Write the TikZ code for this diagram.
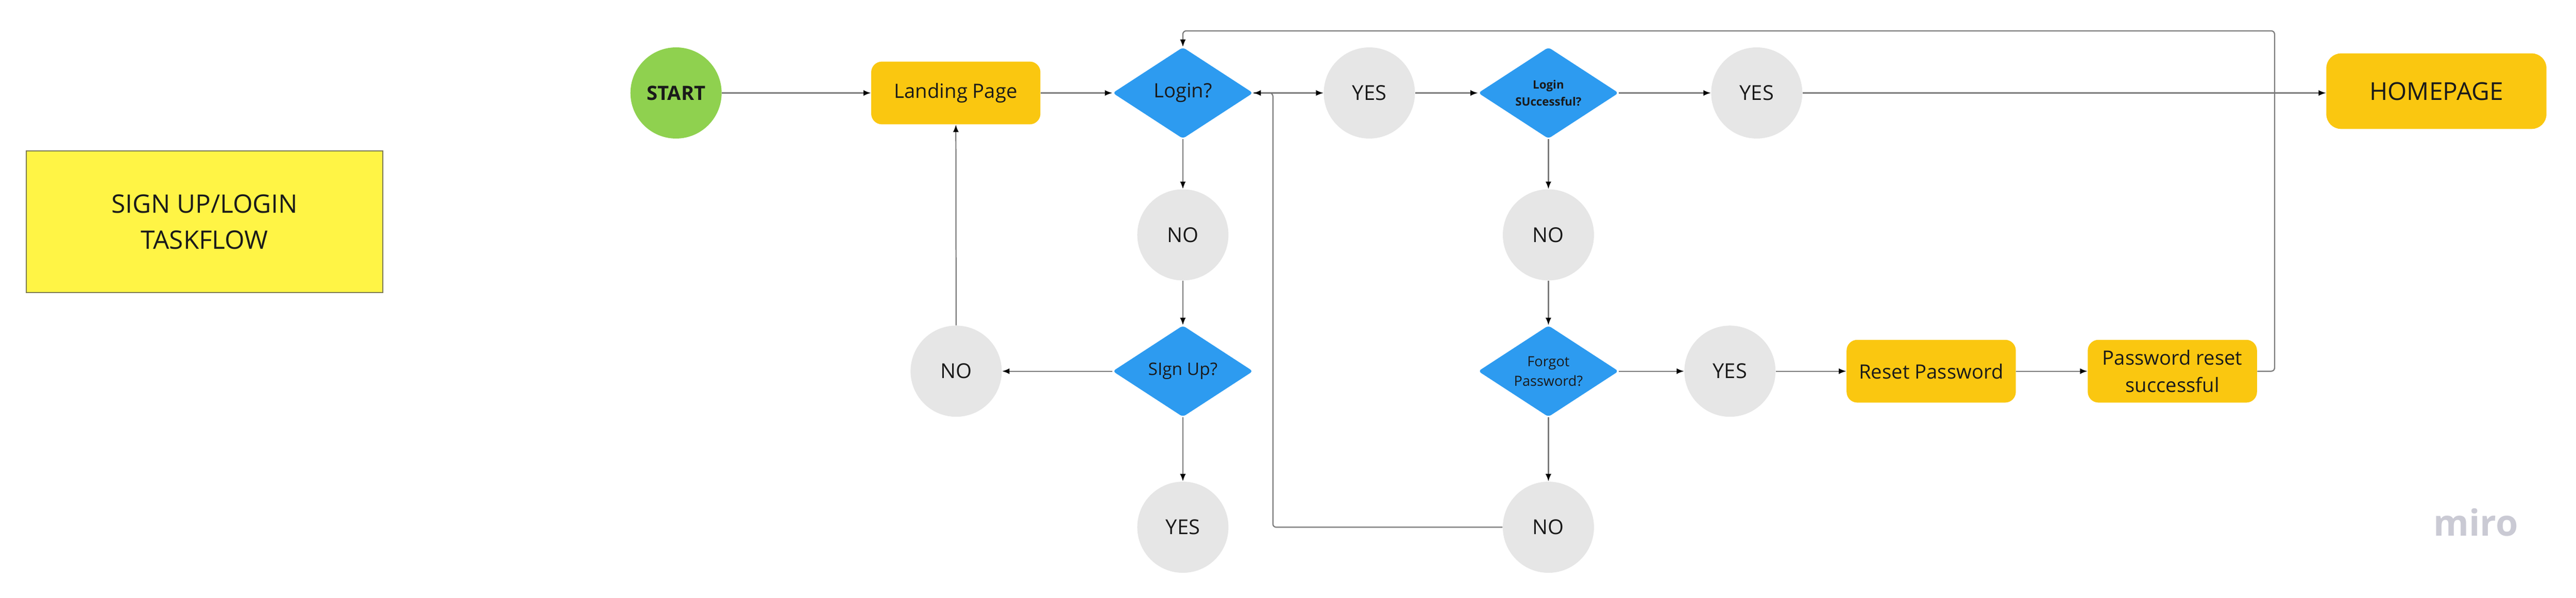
\documentclass[tikz,border=0pt]{standalone}
\usepackage{fontspec}
\setmainfont{Open Sans}
\usepackage{tikz}
\usetikzlibrary{shapes.geometric, arrows.meta}

\definecolor{startgreen}{HTML}{8FD14F}
\definecolor{pageyellow}{HTML}{FAC710}
\definecolor{askblue}{HTML}{2D9BF0}
\definecolor{ansgray}{HTML}{E6E6E6}
\definecolor{titleyellow}{HTML}{FFF445}
\definecolor{titleborder}{HTML}{7D7A55}
\definecolor{linegray}{HTML}{7A7A7A}
\definecolor{txt}{HTML}{1A1A1A}
\definecolor{logogray}{HTML}{CACAD4}

\begin{document}
\begin{tikzpicture}[x=1pt, y=-1pt,
  ans/.style={circle, fill=ansgray, minimum size=55.5pt, inner sep=0pt, text=txt, font=\fontsize{12.5}{15}\selectfont},
  ask/.style={diamond, aspect=1.5, fill=askblue, minimum width=85.5pt, minimum height=55.7pt, inner sep=0pt, rounded corners=2pt, align=center, text=txt},
  page/.style={rectangle, rounded corners=6.5pt, fill=pageyellow, minimum width=103pt, minimum height=38.2pt, inner sep=0pt, align=center, text=txt, font=\fontsize{12}{17}\selectfont},
  conn/.style={draw=linegray, line width=0.7pt, rounded corners=2pt, -{Latex[length=4.5pt,width=3.5pt,color=black]}}]
\useasboundingbox (0,0) rectangle (1568,364);
\node[draw=titleborder, line width=0.8pt, fill=titleyellow, minimum width=217pt, minimum height=86.3pt, align=center, text=txt, font=\fontsize{15.5}{22}\selectfont] (title) at (124.5,135) {SIGN UP/LOGIN\\TASKFLOW};
\node[circle, fill=startgreen, minimum size=55.5pt, inner sep=0pt, text=txt, font=\fontsize{12}{14}\selectfont\bfseries] (start) at (411.5,56.6) {START};
\node[page] (landing) at (581.8,56.6) {Landing Page};
\node[ask, font=\fontsize{12}{14}\selectfont] (login) at (720,56.6) {Login?};
\node[ans] (yes1) at (833.5,56.6) {YES};
\node[ask, font=\fontsize{7}{10.4}\selectfont\bfseries] (lsucc) at (942.5,56.6) {Login\\SUccessful?};
\node[ans] (yes2) at (1069.3,56.6) {YES};
\node[page, minimum width=134pt, minimum height=46pt, rounded corners=9pt, font=\fontsize{15}{18}\selectfont] (home) at (1483,55.5) {HOMEPAGE};
\node[ans] (no1) at (720,143) {NO};
\node[ask, font=\fontsize{10.5}{13}\selectfont] (signup) at (720,226) {SIgn Up?};
\node[ans] (no2) at (582,226) {NO};
\node[ans] (yes3) at (720,321) {YES};
\node[ans] (no3) at (942.5,143) {NO};
\node[ask, font=\fontsize{8.5}{12}\selectfont] (forgot) at (942.5,226) {Forgot\\Password?};
\node[ans] (yes4) at (1053,226) {YES};
\node[page] (reset) at (1175.5,226) {Reset Password};
\node[page, font=\fontsize{12}{16.9}\selectfont] (done) at (1322.3,226) {Password reset\\successful};
\node[ans] (no4) at (942.5,321) {NO};
\node[text=logogray, font=\fontsize{22}{24}\selectfont\bfseries] (miro) at (1507,318) {miro};
\coordinate (loopR) at (1384.5,18.8);
\coordinate (back) at (774.8,200);
\draw[conn] (start) -- (landing);
\draw[conn] (landing) -- (login);
\draw[conn] (login) -- (yes1);
\draw[conn] (yes1) -- (lsucc);
\draw[conn] (lsucc) -- (yes2);
\draw[conn] (yes2) -- (yes2 -| home.west);
\draw[conn] (login) -- (no1);
\draw[conn] (no1) -- (signup);
\draw[conn] (signup) -- (no2);
\draw[conn] (no2) -- (landing);
\draw[conn] (signup) -- (yes3);
\draw[conn] (lsucc) -- (no3);
\draw[conn] (no3) -- (forgot);
\draw[conn] (forgot) -- (yes4);
\draw[conn] (yes4) -- (reset);
\draw[conn] (reset) -- (done);
\draw[conn] (forgot) -- (no4);
\draw[conn] (done.east) -| (loopR) -| (login.north);
\draw[conn] (no4.west) -| (back) |- (login.east);
\end{tikzpicture}
\end{document}
